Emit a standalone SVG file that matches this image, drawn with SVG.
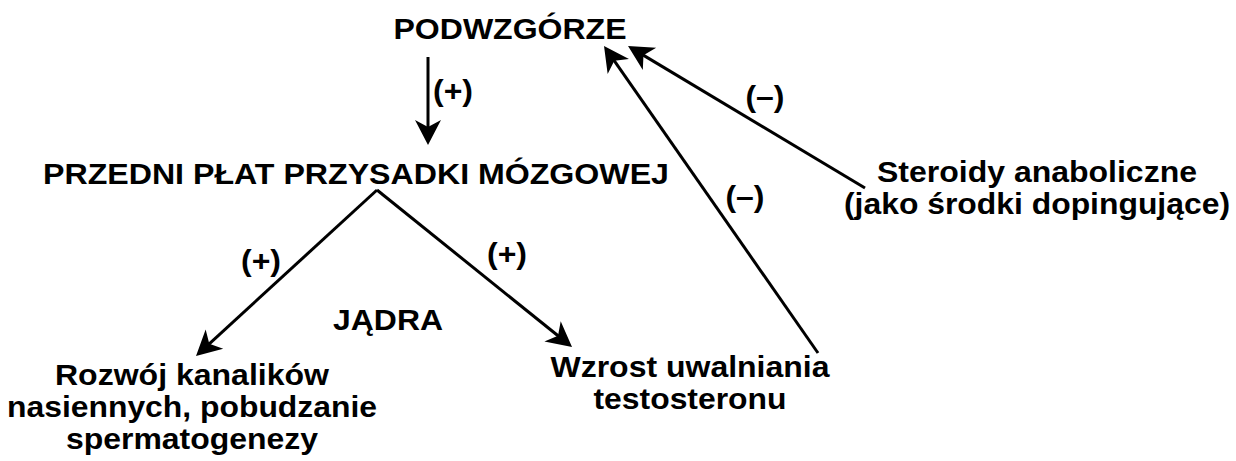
<svg xmlns="http://www.w3.org/2000/svg" width="1236" height="461" viewBox="0 0 1236 461">
<style>
text{font-family:"Liberation Sans",Arial,sans-serif;font-weight:bold;font-size:29px;fill:#000;text-anchor:middle}
.c{stroke:#000;stroke-width:3;fill:none}
</style>
<defs>
<marker id="ah" markerUnits="userSpaceOnUse" markerWidth="30" markerHeight="30" viewBox="-20 -15 30 30" refX="0" refY="0" orient="auto">
<path d="M8,0 L-17,-13 L-10,0 L-17,13 Z" fill="#000"/>
</marker>
</defs>
<rect width="1236" height="461" fill="#fff"/>
<g id="connectors">
<line class="c" x1="428" y1="57" x2="428" y2="137" marker-end="url(#ah)"/>
<line class="c" x1="377" y1="190" x2="565.8" y2="342" marker-end="url(#ah)"/>
<line class="c" x1="377" y1="190" x2="201.9" y2="350.6" marker-end="url(#ah)"/>
<line class="c" x1="865" y1="188" x2="634.9" y2="50.1" marker-end="url(#ah)"/>
<line class="c" x1="818" y1="353" x2="608.6" y2="52.6" marker-end="url(#ah)"/>
<text x="453" y="101" textLength="40" lengthAdjust="spacingAndGlyphs">(+)</text>
<text x="261" y="271" textLength="40" lengthAdjust="spacingAndGlyphs">(+)</text>
<text x="507" y="264" textLength="40" lengthAdjust="spacingAndGlyphs">(+)</text>
<text x="765" y="107" textLength="39" lengthAdjust="spacingAndGlyphs">(–)</text>
<text x="745" y="207" textLength="39" lengthAdjust="spacingAndGlyphs">(–)</text>
</g>
<g id="podwzgorze"><text x="510" y="39" textLength="233" lengthAdjust="spacingAndGlyphs">PODWZGÓRZE</text></g>
<g id="przysadka"><text x="356" y="184" textLength="626" lengthAdjust="spacingAndGlyphs">PRZEDNI PŁAT PRZYSADKI MÓZGOWEJ</text></g>
<g id="jadra"><text x="388" y="330" textLength="110" lengthAdjust="spacingAndGlyphs">JĄDRA</text></g>
<g id="steroidy"><text x="1037" y="182" textLength="320" lengthAdjust="spacingAndGlyphs">Steroidy anaboliczne</text><text x="1037" y="214" textLength="386" lengthAdjust="spacingAndGlyphs">(jako środki dopingujące)</text></g>
<g id="kanaliki"><text x="192" y="385" textLength="274" lengthAdjust="spacingAndGlyphs">Rozwój kanalików</text><text x="192" y="417" textLength="370" lengthAdjust="spacingAndGlyphs">nasiennych, pobudzanie</text><text x="192" y="449" textLength="252" lengthAdjust="spacingAndGlyphs">spermatogenezy</text></g>
<g id="testosteron"><text x="690" y="377" textLength="279" lengthAdjust="spacingAndGlyphs">Wzrost uwalniania</text><text x="690" y="409" textLength="193" lengthAdjust="spacingAndGlyphs">testosteronu</text></g>
</svg>
